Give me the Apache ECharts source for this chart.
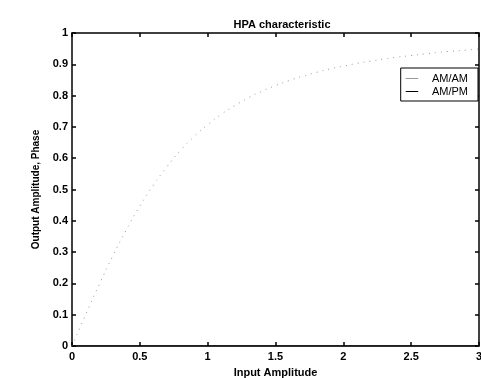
<!DOCTYPE html>
<html><head><meta charset="utf-8">
<script src="https://cdn.jsdelivr.net/npm/echarts@6/dist/echarts.min.js"></script>
<style>html,body{margin:0;padding:0;background:#fff}#c{width:481px;height:378px}</style>
</head><body><div id="c"></div>
<script>
const inputAmp = [0,0.1,0.2,0.3,0.4,0.5,0.6,0.7,0.8,0.9,1.0,1.1,1.2,1.3,1.4,1.5,1.6,1.7,1.8,1.9,2.0,2.1,2.2,2.3,2.4,2.5,2.6,2.7,2.8,2.9,3.0];
const amam = [0,0.10,0.196,0.287,0.371,0.447,0.514,0.573,0.625,0.669,0.707,0.740,0.768,0.793,0.814,0.832,0.848,0.862,0.874,0.885,0.894,0.903,0.910,0.917,0.923,0.928,0.933,0.938,0.942,0.945,0.949];
const ampm = [0,0,0,0,0,0,0,0,0,0,0,0,0,0,0,0,0,0,0,0,0,0,0,0,0,0,0,0,0,0,0];
const xTicks = [0,0.5,1,1.5,2,2.5,3];
const yTicks = [0,0.1,0.2,0.3,0.4,0.5,0.6,0.7,0.8,0.9,1];
const seriesNames = ['AM/AM','AM/PM'];
const FONT = '"Liberation Sans", Arial, sans-serif';
const chart = echarts.init(document.getElementById('c'), null, {renderer:'canvas'});
function axisCommon(){
  return {
    axisLine:{show:true,onZero:false,lineStyle:{color:'#000',width:1.5}},
    axisTick:{show:true,inside:true,length:4,lineStyle:{color:'#000',width:1.5}},
    splitLine:{show:false}
  };
}
chart.setOption({
  animation:false,
  backgroundColor:'#fff',
  title:{text:'HPA characteristic',left:277,top:14,textAlign:'center',
    textStyle:{fontFamily:FONT,fontSize:11,fontWeight:'bold',color:'#000'}},
  legend:{data:[
      {name:seriesNames[0],icon:'path://M0,0 L1,0 L1,0.08 L0,0.08 Z'},
      {name:seriesNames[1],icon:'path://M0,0 L1,0 L1,0.08 L0,0.08 Z'}],
    orient:'vertical',right:3,top:68,itemWidth:20,itemHeight:1,itemGap:2,
    padding:[5,10,4,5],borderColor:'#000',borderWidth:1,backgroundColor:'#fff',
    textStyle:{fontFamily:FONT,fontSize:11,color:'#000',padding:[0,0,0,5]}},
  grid:{left:72,right:2,top:33,bottom:32,containLabel:false,outerBoundsMode:'none'},
  xAxis:[
    Object.assign({type:'value',min:0,max:3,interval:0.5,position:'bottom',
      name:'Input Amplitude',nameLocation:'middle',nameGap:21,
      nameTextStyle:{fontFamily:FONT,fontSize:11,fontWeight:'bold',color:'#000'},
      axisLabel:{fontFamily:FONT,fontSize:11,fontWeight:'bold',color:'#000',margin:5,
        formatter:v=>xTicks.includes(v)?String(v):''}},axisCommon()),
    Object.assign({type:'value',min:0,max:3,interval:0.5,position:'top',axisLabel:{show:false}},axisCommon())
  ],
  yAxis:[
    Object.assign({type:'value',min:0,max:1,interval:0.1,position:'left',
      name:'Output Amplitude, Phase',nameLocation:'middle',nameGap:31,
      nameTextStyle:{fontFamily:FONT,fontSize:10,fontWeight:'bold',color:'#000'},
      axisLabel:{fontFamily:FONT,fontSize:11,fontWeight:'bold',color:'#000',margin:4,
        formatter:v=>{const t=yTicks.find(y=>Math.abs(y-v)<1e-9);return t===undefined?'':String(t);}}},axisCommon()),
    Object.assign({type:'value',min:0,max:1,interval:0.1,position:'right',axisLabel:{show:false}},axisCommon())
  ],
  series:[
    {name:seriesNames[0],type:'line',showSymbol:false,smooth:true,
      data:inputAmp.map((x,i)=>[x,amam[i]]),
      itemStyle:{color:'#999'},
      lineStyle:{color:'#999',width:1,type:[1,5]}},
    {name:seriesNames[1],type:'line',showSymbol:false,
      data:inputAmp.map((x,i)=>[x,ampm[i]]),
      itemStyle:{color:'#000'},
      lineStyle:{color:'#000',width:1}}
  ]
});
</script></body></html>
